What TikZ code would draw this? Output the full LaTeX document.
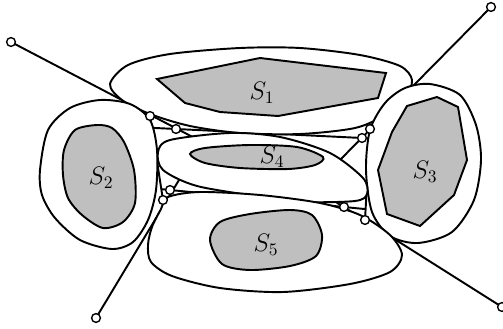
\documentclass[tikz,border=0pt]{standalone}
\begin{document}
\begin{tikzpicture}[x=0.02cm, y=-0.02cm, line width=1.1pt,
    region/.style={draw, fill=white, line width=1.1pt},
    setfill/.style={draw, fill=gray!50, line width=1.1pt},
    dot/.style={circle, draw, fill=white, inner sep=0pt, minimum size=5pt, line width=0.8pt},
    lab/.style={font=\Large}]

    \useasboundingbox (0,0) rectangle (503,328);

    % ─────────── points ───────────────────────────────────────────────
    \coordinate (E1) at (11,42);
    \coordinate (E2) at (491,7);
    \coordinate (E3) at (96,318);
    \coordinate (E4) at (502,307);
    \coordinate (P1) at (150,116);
    \coordinate (Q1) at (176,129);
    \coordinate (P2) at (370,129);
    \coordinate (Q2) at (362,138);
    \coordinate (P3) at (163,200);
    \coordinate (Q3) at (170,190);
    \coordinate (P4) at (365,220);
    \coordinate (Q4) at (344,207);
    \coordinate (T1) at (206,144);
    \coordinate (T2) at (337,163);
    \coordinate (T3) at (185,170);
    \coordinate (T4) at (320,192);
    \coordinate (HtL) at (intersection of P1--P3 and Q1--Q2);
    \coordinate (HtR) at (intersection of P2--P4 and Q1--Q2);
    \coordinate (HbL) at (intersection of P1--P3 and Q3--Q4);
    \coordinate (HbR) at (intersection of P2--P4 and Q3--Q4);

    % ─────────── lines ────────────────────────────────────────────────
    \draw (E1) -- (T1);
    \draw (E2) -- (T2);
    \draw (E3) -- (T3);
    \draw (E4) -- (T4);
    \draw (P1) -- (P3);
    \draw (P2) -- (P4);
    \draw (HtL) -- (HtR);
    \draw (HbL) -- (HbR);

    % ─────────── outer regions ────────────────────────────────────────
    \draw[region] plot[smooth cycle] coordinates {(110,84) (128,65) (170,54) (240,48) (300,48) (360,55) (400,66) (412,80) (405,98) (385,115) (355,128) (300,134) (240,133) (190,126) (150,114) (122,100)};
    \draw[region] plot[smooth cycle] coordinates {(40,170) (48,130) (70,108) (100,100) (130,104) (150,120) (157,150) (156,190) (148,220) (133,242) (112,249) (80,240) (55,218) (42,195)};
    \draw[region] plot[smooth cycle] coordinates {(430,84) (460,95) (476,125) (481,160) (474,200) (452,232) (418,243) (390,236) (372,212) (366,170) (370,130) (385,103) (405,88)};
    \draw[region] plot[smooth cycle] coordinates {(158,152) (170,140) (230,133) (280,137) (330,153) (363,178) (367,194) (355,201) (303,202) (263,197) (197,186) (163,170)};
    \draw[region] plot[smooth cycle] coordinates {(168,197) (200,192) (260,195) (320,203) (360,215) (390,235) (402,255) (390,272) (350,284) (283,292) (220,288) (172,276) (151,262) (148,245) (152,227) (161,209)};

    % ─────────── sets ─────────────────────────────────────────────────
    \draw[setfill] (157,79) -- (260,58) -- (386,73) -- (378,98) -- (278,116) -- (220,112) -- (185,103) -- cycle;
    \draw[setfill] plot[smooth cycle] coordinates {(97,125) (75,130) (64,150) (63,175) (68,198) (82,215) (103,228) (123,222) (135,203) (134,170) (124,142) (112,128)};
    \draw[setfill] (407,106) -- (437,97) -- (458,107) -- (467,160) -- (454,195) -- (420,226) -- (387,214) -- (378,170) -- (392,132) -- cycle;
    \draw[setfill] plot[smooth cycle] coordinates {(190,154) (205,148) (250,145) (297,147) (323,157) (315,165) (288,169) (240,168) (205,163)};
    \draw[setfill] plot[smooth cycle] coordinates {(210,240) (220,222) (250,214) (290,210) (312,215) (322,235) (316,256) (290,266) (250,270) (222,264)};

    % ─────────── dots ─────────────────────────────────────────────────
    \foreach \p in {E1,E2,E3,E4,P1,Q1,P2,Q2,P3,Q3,P4,Q4}
      \node[dot] (d\p) at (\p) {};

    % ─────────── labels ───────────────────────────────────────────────
    \node[lab] (l1) at (262,93) {$S_1$};
    \node[lab] (l2) at (101,178) {$S_2$};
    \node[lab] (l3) at (425,172) {$S_3$};
    \node[lab] (l4) at (272,157) {$S_4$};
    \node[lab] (l5) at (266,245) {$S_5$};
  \end{tikzpicture}
\end{document}
